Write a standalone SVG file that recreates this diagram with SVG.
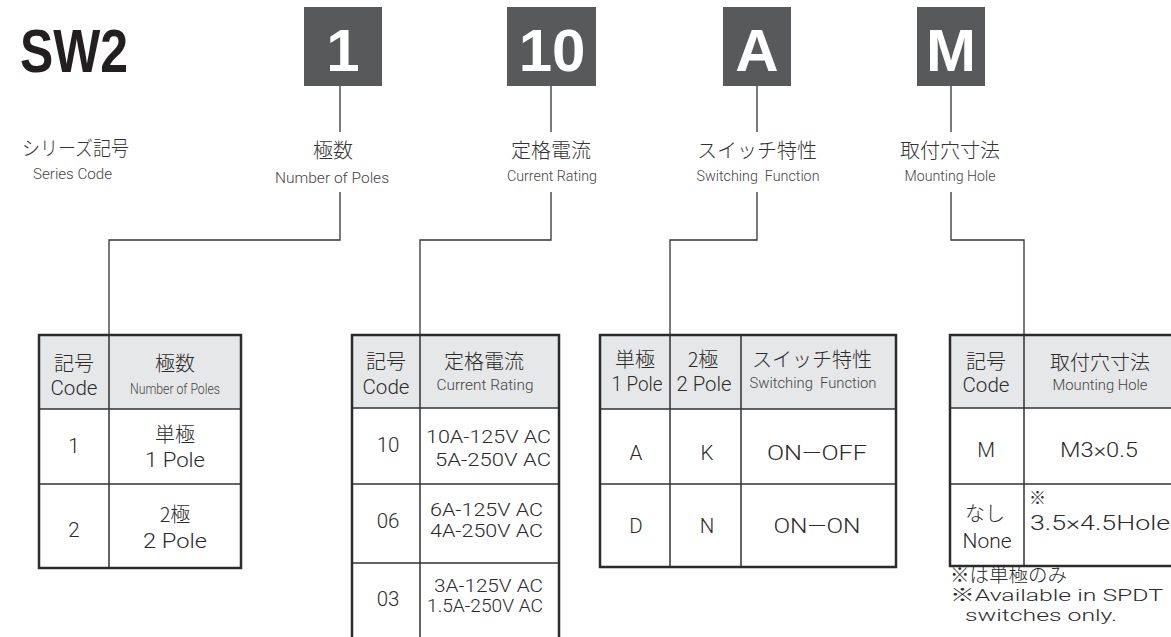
<svg xmlns="http://www.w3.org/2000/svg" width="1171" height="637" viewBox="0 0 1171 637">
<style>
.badge{fill:#58595b}
.bt{font-family:"Liberation Sans",Arial,sans-serif;font-weight:bold;font-size:60px;fill:#fff;text-anchor:middle}
.jp{font-family:"Noto Sans CJK JP",sans-serif;font-weight:300;font-size:20px;fill:#333;text-anchor:middle}
.en{font-family:Roboto,"Liberation Sans",sans-serif;font-weight:300;font-size:14px;fill:#444;text-anchor:middle}
.t{font-family:Roboto,"Liberation Sans","Noto Sans CJK JP",sans-serif;font-weight:300;font-size:20.5px;fill:#2b2b2b;text-anchor:middle}
.tj{font-family:"Noto Sans CJK JP",sans-serif;font-weight:300;font-size:20px;fill:#2b2b2b;text-anchor:middle}
.hd{fill:#e6e7e8}
.ob{fill:none;stroke:#2b2b2b;stroke-width:2.5}
.il{stroke:#333;stroke-width:1.5;fill:none}
.cn{stroke:#333;stroke-width:1.3;fill:none}
</style>
<rect width="1171" height="637" fill="#fff"/>
<g id="title">
<text x="20" y="72" font-family="'Liberation Sans',Arial,sans-serif" font-weight="bold" font-size="61" fill="#231f20" textLength="108" lengthAdjust="spacingAndGlyphs">SW2</text>
</g>
<g id="badge-1"><rect class="badge" x="304" y="7" width="78" height="79"/><text class="bt" x="343" y="71">1</text></g>
<g id="badge-10"><rect class="badge" x="507" y="7" width="89" height="79"/><text class="bt" x="552" y="71">10</text></g>
<g id="badge-A"><rect class="badge" x="723" y="7" width="68" height="79"/><text class="bt" x="757" y="71">A</text></g>
<g id="badge-M"><rect class="badge" x="917" y="7" width="68" height="79"/><text class="bt" x="951" y="71">M</text></g>

<g id="label-series">
<text class="jp" x="22" y="156" style="text-anchor:start" textLength="107" lengthAdjust="spacingAndGlyphs">シリーズ記号</text>
<text class="en" x="33" y="179" style="text-anchor:start" textLength="79" lengthAdjust="spacingAndGlyphs">Series Code</text>
</g>
<g id="label-poles">
<text class="jp" x="333" y="158">極数</text>
<text class="en" x="332" y="183" textLength="114" lengthAdjust="spacingAndGlyphs">Number of Poles</text>
</g>
<g id="label-current">
<text class="jp" x="551" y="158">定格電流</text>
<text class="en" x="552" y="181" textLength="90" lengthAdjust="spacingAndGlyphs">Current Rating</text>
</g>
<g id="label-switching">
<text class="jp" x="757" y="158">スイッチ特性</text>
<text class="en" x="758" y="181" xml:space="preserve" textLength="123" lengthAdjust="spacingAndGlyphs">Switching  Function</text>
</g>
<g id="label-mounting">
<text class="jp" x="950" y="158">取付穴寸法</text>
<text class="en" x="950" y="181" textLength="91" lengthAdjust="spacingAndGlyphs">Mounting Hole</text>
</g>

<g id="connectors">
<path class="cn" d="M340,86 V132"/>
<path class="cn" d="M340,192 V240 H109 V335"/>
<path class="cn" d="M551,86 V132"/>
<path class="cn" d="M551,192 V240 H420 V335"/>
<path class="cn" d="M757,86 V132"/>
<path class="cn" d="M757,192 V240 H670 V335"/>
<path class="cn" d="M951,86 V132"/>
<path class="cn" d="M951,192 V240 H1024 V335"/>
</g>

<g id="table-poles">
<rect class="hd" x="39" y="335" width="202" height="74"/>
<path class="il" d="M39,409 H241 M39,484 H241 M109,335 V568"/>
<rect class="ob" x="39" y="335" width="202" height="233"/>
<text class="tj" x="74" y="371">記号</text>
<text class="t" x="74" y="395" textLength="47" lengthAdjust="spacingAndGlyphs">Code</text>
<text class="tj" x="175" y="371">極数</text>
<text class="en" x="175" y="394" textLength="90" lengthAdjust="spacingAndGlyphs">Number of Poles</text>
<text class="t" x="74" y="453">1</text>
<text class="tj" x="175" y="442">単極</text>
<text class="t" x="175" y="467" textLength="60" lengthAdjust="spacingAndGlyphs">1 Pole</text>
<text class="t" x="74" y="537">2</text>
<text class="tj" x="175" y="522">2極</text>
<text class="t" x="175" y="548" textLength="64" lengthAdjust="spacingAndGlyphs">2 Pole</text>
</g>

<g id="table-current">
<rect class="hd" x="352" y="335" width="207" height="73"/>
<path class="il" d="M352,408 H559 M352,484 H559 M352,563 H559 M420,335 V640"/>
<path class="ob" d="M352,640 V335 H559 V640"/>
<text class="tj" x="386" y="369">記号</text>
<text class="t" x="386" y="394" textLength="47" lengthAdjust="spacingAndGlyphs">Code</text>
<text class="tj" x="484" y="369">定格電流</text>
<text class="en" x="485" y="390" textLength="97" lengthAdjust="spacingAndGlyphs">Current Rating</text>
<text class="t" x="388" y="452">10</text>
<text class="t" x="551" y="443" style="text-anchor:end;font-size:19px" textLength="125" lengthAdjust="spacingAndGlyphs">10A-125V AC</text>
<text class="t" x="551" y="466" style="text-anchor:end;font-size:19px" textLength="116" lengthAdjust="spacingAndGlyphs">5A-250V AC</text>
<text class="t" x="388" y="528">06</text>
<text class="t" x="543" y="516" style="text-anchor:end;font-size:18px" textLength="113" lengthAdjust="spacingAndGlyphs">6A-125V AC</text>
<text class="t" x="543" y="537" style="text-anchor:end;font-size:18px" textLength="113" lengthAdjust="spacingAndGlyphs">4A-250V AC</text>
<text class="t" x="388" y="606">03</text>
<text class="t" x="543" y="592" style="text-anchor:end;font-size:18px" textLength="109" lengthAdjust="spacingAndGlyphs">3A-125V AC</text>
<text class="t" x="543" y="612" style="text-anchor:end;font-size:18px" textLength="116" lengthAdjust="spacingAndGlyphs">1.5A-250V AC</text>
</g>

<g id="table-switching">
<rect class="hd" x="600" y="335" width="296" height="74"/>
<path class="il" d="M600,409 H896 M600,484 H896 M670,335 V567 M741,335 V567"/>
<rect class="ob" x="600" y="335" width="296" height="232"/>
<text class="tj" x="635" y="367">単極</text>
<text class="t" x="637" y="391" textLength="51" lengthAdjust="spacingAndGlyphs">1 Pole</text>
<text class="tj" x="703" y="367">2極</text>
<text class="t" x="704" y="391" textLength="55" lengthAdjust="spacingAndGlyphs">2 Pole</text>
<text class="tj" x="812" y="367">スイッチ特性</text>
<text class="en" x="813" y="388" xml:space="preserve" textLength="127" lengthAdjust="spacingAndGlyphs">Switching  Function</text>
<text class="t" x="636" y="460">A</text>
<text class="t" x="707" y="460">K</text>
<text class="t" x="817" y="460" textLength="100" lengthAdjust="spacingAndGlyphs">ON—OFF</text>
<text class="t" x="636" y="533">D</text>
<text class="t" x="707" y="533">N</text>
<text class="t" x="817" y="533" textLength="87" lengthAdjust="spacingAndGlyphs">ON—ON</text>
</g>

<g id="table-mounting">
<rect class="hd" x="950" y="335" width="230" height="73"/>
<path class="il" d="M950,408 H1180 M950,484 H1180 M1024,335 V566"/>
<path class="ob" d="M1180,335 H950 V566 H1180"/>
<text class="tj" x="986" y="369">記号</text>
<text class="t" x="986" y="392" textLength="47" lengthAdjust="spacingAndGlyphs">Code</text>
<text class="tj" x="1100" y="370">取付穴寸法</text>
<text class="en" x="1100" y="390" textLength="95" lengthAdjust="spacingAndGlyphs">Mounting Hole</text>
<text class="t" x="986" y="457">M</text>
<text class="t" x="1099" y="457" textLength="78" lengthAdjust="spacingAndGlyphs">M3×0.5</text>
<text class="tj" x="985" y="521">なし</text>
<text class="t" x="987" y="548" textLength="49" lengthAdjust="spacingAndGlyphs">None</text>
<text class="tj" x="1029" y="504" style="text-anchor:start;font-size:17px">※</text>
<text class="t" x="1030" y="530" style="text-anchor:start" textLength="140" lengthAdjust="spacingAndGlyphs">3.5×4.5Hole</text>
</g>

<g id="notes">
<text class="tj" x="950" y="582" style="text-anchor:start;font-size:19px" textLength="117" lengthAdjust="spacingAndGlyphs">※は単極のみ</text>
<text class="t" x="950" y="601" style="text-anchor:start;font-size:17px" textLength="213" lengthAdjust="spacingAndGlyphs">※Available in SPDT</text>
<text class="t" x="965" y="621" style="text-anchor:start;font-size:16px" textLength="152" lengthAdjust="spacingAndGlyphs">switches only.</text>
</g>
</svg>
